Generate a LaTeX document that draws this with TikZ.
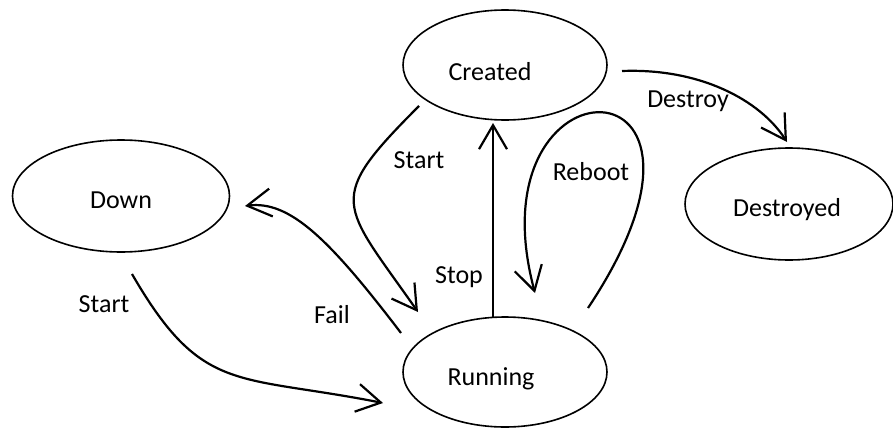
\documentclass[tikz,border=0pt]{standalone}
\usepackage{fontspec}
\setmainfont{Carlito}
\usetikzlibrary{arrows.meta,shapes.geometric}
\begin{document}
\begin{tikzpicture}[x=1pt,y=-1pt,
  state/.style={draw, ellipse, line width=1.6pt, inner sep=0pt},
  lbl/.style={font=\fontsize{26}{31}\selectfont, anchor=base, inner sep=0pt},
  conn/.style={line width=2.2pt, -{Straight Barb[length=24pt,width=28pt]}}]
\useasboundingbox (0,0) rectangle (893,428);
% states
\node[state, minimum width=204pt, minimum height=110pt] (created) at (505,65) {};
\node[state, minimum width=204pt, minimum height=110pt] (running) at (505,372) {};
\node[state, minimum width=217pt, minimum height=112pt] (down) at (121,196) {};
\node[state, minimum width=208pt, minimum height=112pt] (destroyed) at (789,204) {};
% state texts
\node[lbl] (tcreated) at ([shift={(-15,15)}]created.center) {Created};
\node[lbl] (trunning) at ([shift={(-14,13)}]running.center) {Running};
\node[lbl] (tdown) at ([shift={(0,12)}]down.center) {Down};
\node[lbl] (tdestroyed) at ([shift={(-2,12)}]destroyed.center) {Destroyed};
% connectors
\draw[conn] ([shift={(-86,41)}]created.center) .. controls +(-95,95) and +(-77,-110) .. ([shift={(-87,-60)}]running.center);
\draw[conn] ([shift={(-12,-55)}]running.center) -- ([shift={(-12,58)}]created.center);
\draw[conn] ([shift={(83,-64)}]running.center) .. controls +(172,-258) and +(-65,-243) .. ([shift={(30,-79)}]running.center);
\draw[conn] ([shift={(117,6)}]created.center) .. controls +(78,-3) and +(-27,-42) .. ([shift={(-2,-62)}]destroyed.center);
\draw[conn] ([shift={(-104,-39)}]running.center) .. controls +(-71,-93) and +(45,-6) .. ([shift={(124,10)}]down.center);
\draw[conn] ([shift={(11,78)}]down.center) .. controls +(70,121) and +(-147,-29) .. ([shift={(-122,31)}]running.center);
% connector labels
\node[lbl] (lstartA) at (419,168) {Start};
\node[lbl] (lstop) at (459,283) {Stop};
\node[lbl] (lreboot) at (591,180) {Reboot};
\node[lbl] (ldestroy) at (688,107) {Destroy};
\node[lbl] (lfail) at (332,323) {Fail};
\node[lbl] (lstartB) at (104,312) {Start};
\end{tikzpicture}
\end{document}
